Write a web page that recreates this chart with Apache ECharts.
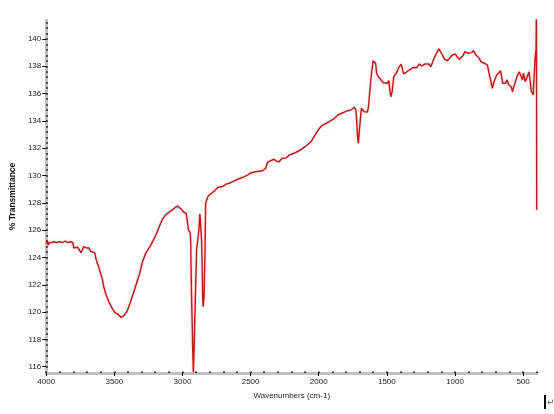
<!DOCTYPE html>
<html>
<head>
<meta charset="utf-8">
<script src="https://cdn.jsdelivr.net/npm/echarts@6/dist/echarts.min.js"></script>
<style>
  html, body { margin: 0; padding: 0; background: #fff; }
  #chart { width: 554px; height: 414px; }
</style>
</head>
<body>
<div id="chart"></div>
<script>
// IR spectrum (wavenumber cm-1, %T)
const wavenumbers = [
  3998, 3993, 3985, 3975, 3960, 3945, 3925, 3900, 3880, 3860, 3845, 3820, 3805, 3798, 3785, 3770,
  3758, 3745, 3735, 3725, 3705, 3685, 3675, 3660, 3645, 3632, 3615, 3602, 3590, 3578, 3560, 3540,
  3515, 3495, 3475, 3462, 3450, 3438, 3425, 3408, 3385, 3360, 3338, 3318, 3293, 3270, 3233, 3197,
  3175, 3150, 3125, 3100, 3076, 3052, 3036, 3016, 2992, 2973, 2964, 2956, 2944, 2939, 2937, 2931,
  2926, 2920, 2915, 2911, 2903, 2896, 2889, 2879, 2872, 2864, 2859, 2852, 2848, 2842, 2835, 2830,
  2823, 2811, 2787, 2763, 2739, 2703, 2679, 2660, 2631, 2606, 2575, 2546, 2520, 2498, 2462, 2414,
  2389, 2377, 2353, 2329, 2310, 2293, 2269, 2240, 2216, 2172, 2136, 2100, 2076, 2052, 2027, 2004,
  1980, 1955, 1924, 1883, 1859, 1823, 1787, 1763, 1738, 1727, 1722, 1714, 1709, 1704, 1697, 1687,
  1666, 1642, 1635, 1630, 1618, 1601, 1589, 1582, 1575, 1562, 1546, 1529, 1497, 1485, 1478, 1471,
  1461, 1449, 1437, 1425, 1413, 1394, 1388, 1377, 1365, 1353, 1329, 1304, 1280, 1261, 1244, 1220,
  1191, 1177, 1165, 1153, 1136, 1119, 1105, 1092, 1076, 1056, 1039, 1020, 998, 984, 967, 943,
  926, 902, 877, 863, 846, 834, 822, 810, 798, 786, 774, 762, 750, 738, 726, 718,
  709, 694, 678, 666, 660, 650, 630, 617, 605, 588, 577, 570, 557, 545, 528, 513,
  505, 497, 485, 475, 456, 448, 440, 437, 425, 420, 412, 405, 402, 400
]
const transmittance = [
  125.0, 125.25, 124.9, 125.1, 125.1, 125.15, 125.1, 125.15, 125.1, 125.2, 125.1, 125.15, 125.1, 124.7, 124.8, 124.75,
  124.65, 124.35, 124.55, 124.8, 124.7, 124.7, 124.45, 124.4, 124.35, 123.8, 123.3, 122.85, 122.5, 121.85, 121.25, 120.75,
  120.25, 119.95, 119.85, 119.85, 119.6, 119.65, 119.8, 120.05, 120.65, 121.4, 122.1, 122.7, 123.7, 124.3, 124.9, 125.6,
  126.15, 126.75, 127.1, 127.3, 127.47, 127.67, 127.77, 127.6, 127.33, 127.23, 126.65, 126.0, 125.85, 125.15, 123.1, 123.1,
  117.7, 115.6, 117.2, 117.1, 122.0, 124.65, 125.15, 126.1, 127.2, 127.1, 125.15, 121.1, 120.4, 121.1, 124.2, 127.95,
  128.2, 128.5, 128.7, 128.9, 129.15, 129.2, 129.38, 129.42, 129.55, 129.67, 129.8, 129.92, 130.05, 130.2, 130.28, 130.35,
  130.53, 130.94, 131.09, 131.19, 131.05, 131.0, 131.26, 131.28, 131.5, 131.67, 131.87, 132.11, 132.31, 132.55, 132.97, 133.33,
  133.63, 133.77, 133.94, 134.19, 134.43, 134.6, 134.75, 134.8, 135.0, 134.8, 134.07, 132.75, 132.36, 132.5, 133.82, 134.92,
  134.67, 134.65, 135.04, 135.53, 137.0, 138.41, 138.46, 138.2, 137.49, 137.24, 137.05, 136.8, 136.75, 136.95, 136.26, 135.77,
  136.14, 137.24, 137.35, 137.6, 137.92, 138.15, 137.9, 137.44, 137.36, 137.6, 137.78, 137.92, 137.9, 138.17, 138.02, 138.17,
  138.17, 137.97, 137.9, 138.59, 138.95, 139.27, 139.15, 138.83, 138.51, 138.41, 138.59, 138.83, 138.9, 138.7, 138.51, 138.75,
  139.07, 138.95, 139.0, 139.15, 138.83, 138.7, 138.59, 138.34, 138.45, 138.22, 138.35, 138.1, 137.49, 137.0, 136.39, 136.7,
  137.0, 137.36, 137.53, 137.68, 137.4, 136.75, 136.75, 137.0, 136.63, 136.51, 136.14, 136.45, 136.56, 137.24, 137.6, 137.24,
  137.0, 137.49, 136.87, 137.1, 137.6, 137.65, 136.2, 136.14, 135.9, 137.12, 138.59, 139.2, 142.5, 127.5
]
const yTickLabels = [116, 118, 120, 122, 124, 126, 128, 130, 132, 134, 136, 138, 140]
const xTickLabels = [4000, 3500, 3000, 2500, 2000, 1500, 1000, 500]

// minor tick positions
const yMinor = []
for (let v = 116; v <= 141.3; v += 0.4) yMinor.push(Math.round(v * 10) / 10)
const xMinor = []
for (let w = 400; w <= 4000; w += 100) xMinor.push(w)

const font = { fontFamily: 'Liberation Sans, Arial, sans-serif', fontSize: 8, color: '#222' }
const axisGray = '#c0c0c0'

const chart = echarts.init(document.getElementById('chart'), null, { renderer: 'canvas' })

chart.setOption({
  animation: false,
  backgroundColor: '#fff',
  grid: {
    left: 39,
    right: 16.75,
    top: 20,
    bottom: 41
  },
  xAxis: [
    {
      type: 'value',
      inverse: true,
      min: 396,
      max: 4000,
      position: 'bottom',
      name: 'Wavenumbers (cm-1)',
      nameLocation: 'middle',
      nameGap: 19,
      nameTextStyle: { ...font, fontSize: 8 },
      axisLine: { show: true, onZero: false, lineStyle: { color: axisGray, width: 3 } },
      axisTick: {
        show: true,
        customValues: xTickLabels,
        length: 3,
        inside: false,
        lineStyle: { color: '#000', width: 1 }
      },
      axisLabel: { ...font, customValues: xTickLabels, margin: 5, formatter: v => String(v) },
      splitLine: { show: false }
    },
    {
      type: 'value',
      inverse: true,
      min: 396,
      max: 4000,
      position: 'bottom',
      axisLine: { show: false, onZero: false },
      axisTick: {
        show: true,
        customValues: xMinor,
        length: 1.5,
        inside: true,
        lineStyle: { color: '#000', width: 1.5 }
      },
      axisLabel: { show: false },
      splitLine: { show: false }
    }
  ],
  yAxis: [
    {
      type: 'value',
      min: 115.54,
      max: 141.39,
      position: 'left',
      name: '% Transmittance',
      nameLocation: 'middle',
      nameGap: 25,
      nameRotate: 90,
      nameTextStyle: { ...font, fontSize: 8.5, fontWeight: 'bold', color: '#111' },
      axisLine: { show: true, onZero: false, lineStyle: { color: axisGray, width: 3 } },
      axisTick: {
        show: true,
        customValues: yTickLabels,
        length: 4,
        lineStyle: { color: '#000', width: 1 }
      },
      axisLabel: { ...font, customValues: yTickLabels, margin: 5, formatter: v => String(v) },
      splitLine: { show: false }
    },
    {
      type: 'value',
      min: 115.54,
      max: 141.39,
      position: 'left',
      axisLine: { show: false, onZero: false },
      axisTick: {
        show: true,
        customValues: yMinor,
        length: 1.5,
        inside: true,
        lineStyle: { color: '#000', width: 1.5 }
      },
      axisLabel: { show: false },
      splitLine: { show: false }
    }
  ],
  series: [
    {
      type: 'line',
      xAxisIndex: 0,
      yAxisIndex: 0,
      data: wavenumbers.map((w, i) => [w, transmittance[i]]),
      showSymbol: false,
      symbol: 'none',
      clip: true,
      lineStyle: { color: '#ff0000', width: 1.5 },
      z: 3
    }
  ],
  graphic: [
    { type: 'rect', shape: { x: 544, y: 395, width: 2, height: 14 }, style: { fill: '#000' } },
    { type: 'text', x: 547, y: 398, style: { text: '↵', fontSize: 9, fill: '#555', fontFamily: 'DejaVu Sans' } }
  ]
})
</script>
</body>
</html>
